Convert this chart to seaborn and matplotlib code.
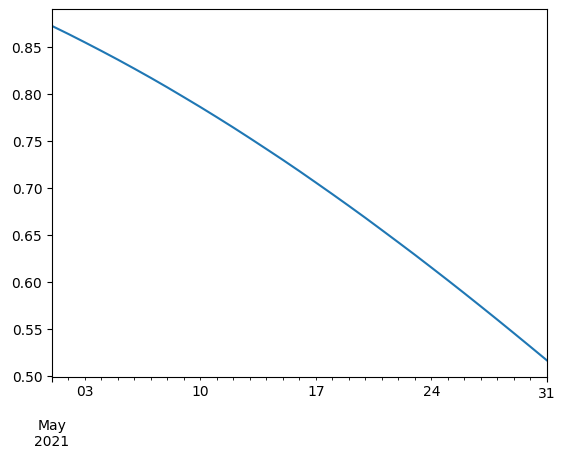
import pandas as pd
import numpy as np
import seaborn as sns
import matplotlib.pyplot as plt
import matplotlib.dates as mdates
import matplotlib.ticker as mticker

# daily values (May 2021)
dates = pd.date_range('2021-05-01', '2021-05-31', freq='D')
values = [0.8724, 0.8638, 0.8549, 0.8458, 0.8365, 0.8269, 0.8171, 0.8070,
          0.7966, 0.7861, 0.7753, 0.7643, 0.7530, 0.7415, 0.7299, 0.7180,
          0.7058, 0.6935, 0.6810, 0.6683, 0.6553, 0.6422, 0.6290, 0.6155,
          0.6019, 0.5881, 0.5741, 0.5600, 0.5457, 0.5313, 0.5168]
major_labels = ['\n\nMay\n2021', '31']

df = pd.DataFrame({'date': dates, 'value': values})

fig, ax = plt.subplots(figsize=(5.65, 4.61), dpi=100)
fig.subplots_adjust(left=0.092, right=0.968, bottom=0.182, top=0.980)

sns.lineplot(data=df, x='date', y='value', ax=ax, color='#1f77b4')
ax.set_xlim(dates[0], dates[-1])
ax.set_xlabel('')
ax.set_ylabel('')

# pandas-style date axis: weekly labels on minor ticks, month/year at start
ax.xaxis.set_major_locator(mticker.FixedLocator(mdates.date2num([dates[0], dates[-1]])))
ax.xaxis.set_major_formatter(mticker.FixedFormatter(major_labels))
ax.xaxis.set_minor_locator(mdates.DayLocator())


def minor_fmt(x, pos):
    d = mdates.num2date(x)
    return d.strftime('%d') if d.weekday() == 0 else ''


ax.xaxis.set_minor_formatter(mticker.FuncFormatter(minor_fmt))

fig.savefig('out.png', dpi=100)
